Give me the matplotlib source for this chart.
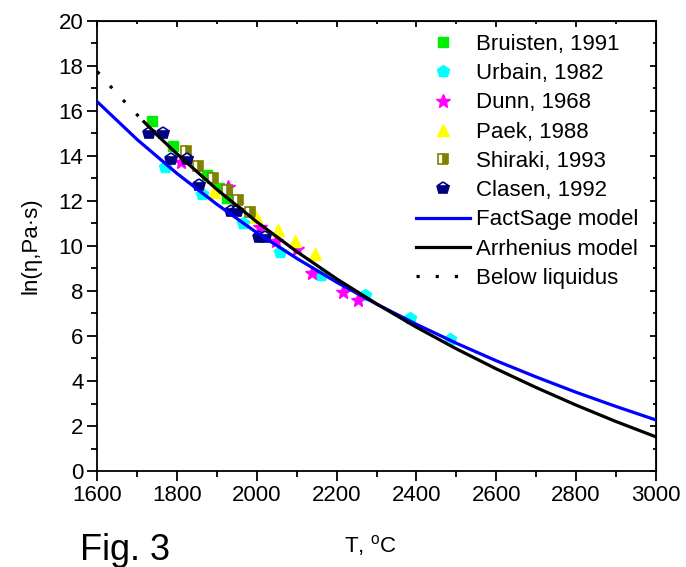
import matplotlib
matplotlib.use("Agg")
import matplotlib.pyplot as plt
from matplotlib.ticker import MultipleLocator

# Font close to the Arial used in the original figure
plt.rcParams['font.family'] = ['Liberation Sans', 'DejaVu Sans']
plt.rcParams['mathtext.fontset'] = 'custom'
plt.rcParams['mathtext.rm'] = 'Liberation Sans'

# --- measured viscosity data (T in degC, ln(eta) in Pa.s) ---
bruisten_T = [1736, 1790, 1874, 1905, 1924]
bruisten_v = [15.55, 14.45, 13.16, 12.59, 12.15]

urbain_T = [1770, 1863, 1965, 2058, 2160, 2270, 2383, 2483]
urbain_v = [13.52, 12.30, 11.00, 9.75, 8.71, 7.82, 6.79, 5.85]

dunn_T = [1811, 1927, 2007, 2047, 2100, 2137, 2216, 2254]
dunn_v = [13.75, 12.60, 10.85, 10.20, 9.85, 8.79, 7.97, 7.60]

paek_T = [1893, 1999, 2053, 2095, 2146]
paek_v = [12.40, 11.27, 10.71, 10.20, 9.66]

shiraki_T = [1822, 1852, 1890, 1925, 1953, 1982]
shiraki_v = [14.22, 13.57, 13.04, 12.50, 12.06, 11.52]

clasen_T = [1730, 1765, 1785, 1825, 1855, 1935, 1950, 2005, 2020]
clasen_v = [15.00, 15.00, 13.85, 13.85, 12.70, 11.55, 11.55, 10.40, 10.40]

# --- model curves ---
factsage_T = [1600, 1700, 1800, 1900, 2000, 2100, 2200, 2300,
              2400, 2500, 2600, 2700, 2800, 2900, 3000]
factsage_v = [16.41, 14.73, 13.22, 11.85, 10.59, 9.45, 8.39, 7.42,
              6.52, 5.68, 4.90, 4.18, 3.50, 2.87, 2.27]

arrhenius_T = [1717, 1750, 1800, 1900, 2000, 2100, 2200, 2300,
               2400, 2500, 2600, 2700, 2800, 2900, 3000]
arrhenius_v = [15.52, 14.93, 14.09, 12.51, 11.07, 9.75, 8.54, 7.43,
               6.39, 5.43, 4.54, 3.71, 2.93, 2.20, 1.52]

liquidus_T = [1600, 1650, 1700, 1717]
liquidus_v = [17.75, 16.76, 15.83, 15.52]

fig = plt.figure(figsize=(6.86, 5.67), dpi=100)
ax = fig.add_axes([0.1418, 0.1693, 0.8142, 0.7937])

ax.plot(bruisten_T, bruisten_v, linestyle='none', marker='s', ms=7,
        color='#00ee00', mec='#00ee00', label='Bruisten, 1991')
ax.plot(urbain_T, urbain_v, linestyle='none', marker='p', ms=9,
        color='#00ffff', mec='#00ffff', label='Urbain, 1982')
ax.plot(dunn_T, dunn_v, linestyle='none', marker='*', ms=10,
        color='#ff00ff', mec='#ff00ff', label='Dunn, 1968')
ax.plot(paek_T, paek_v, linestyle='none', marker='^', ms=9,
        color='#ffff00', mec='#ffff00', label='Paek, 1988')
ax.plot(shiraki_T, shiraki_v, linestyle='none', marker='s', ms=7,
        fillstyle='right', color='#808000', markerfacecoloralt='white',
        mec='#808000', mew=1.2, label='Shiraki, 1993')
ax.plot(clasen_T, clasen_v, linestyle='none', marker='p', ms=9,
        fillstyle='bottom', color='#000080', markerfacecoloralt='white',
        mec='#000080', mew=1.2, label='Clasen, 1992')

ax.plot(factsage_T, factsage_v, color='#0000ff', lw=2.3, zorder=4,
        label='FactSage model')
ax.plot(arrhenius_T, arrhenius_v, color='black', lw=2.3, zorder=4,
        label='Arrhenius model')
ax.plot(liquidus_T, liquidus_v, color='black', lw=2.3, zorder=4,
        linestyle=(0, (1, 5)), label='Below liquidus')

ax.set_xlim(1600, 3000)
ax.set_ylim(0, 20)
ax.xaxis.set_major_locator(MultipleLocator(200))
ax.xaxis.set_minor_locator(MultipleLocator(100))
ax.yaxis.set_major_locator(MultipleLocator(2))
ax.yaxis.set_minor_locator(MultipleLocator(1))
ax.tick_params(which='major', direction='out', length=7, width=1.3,
               labelsize=16, pad=3)
ax.tick_params(which='minor', direction='out', length=4, width=1.3)
for sp in ax.spines.values():
    sp.set_linewidth(1.3)

# mirrored inward ticks on the top and right sides
top = ax.secondary_xaxis('top')
top.xaxis.set_major_locator(MultipleLocator(200))
top.xaxis.set_minor_locator(MultipleLocator(100))
top.tick_params(which='both', direction='in', labeltop=False, width=1.3)
top.tick_params(which='major', length=4)
top.tick_params(which='minor', length=2)
right = ax.secondary_yaxis('right')
right.yaxis.set_major_locator(MultipleLocator(2))
right.yaxis.set_minor_locator(MultipleLocator(1))
right.tick_params(which='both', direction='in', labelright=False, width=1.3)
right.tick_params(which='major', length=4)
right.tick_params(which='minor', length=2)

ax.set_ylabel('ln(\u03b7,Pa\u00b7s)', fontsize=16, labelpad=12)
fig.text(0.54, 0.025, 'T, $^{\\mathrm{o}}$C', fontsize=16, ha='center')
fig.text(0.117, 0.012, 'Fig. 3', fontsize=26)

ax.legend(loc='upper left', bbox_to_anchor=(0.607, 0.94),
          bbox_transform=fig.transFigure, frameon=False, fontsize=16,
          handlelength=2.4, handletextpad=0.3, labelspacing=0.37,
          borderaxespad=0, borderpad=0)

fig.savefig('out.png', dpi=100)
